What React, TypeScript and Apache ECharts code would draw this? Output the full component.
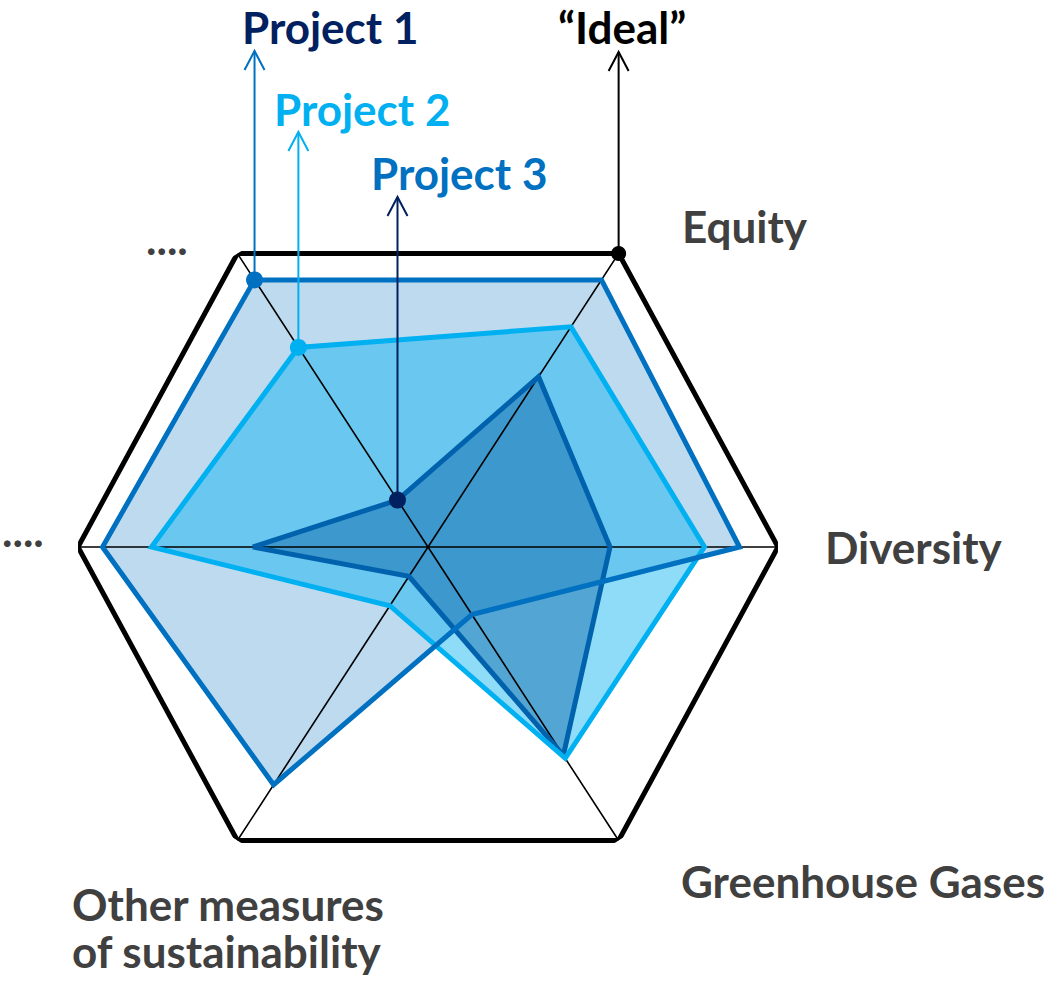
import React, { useEffect, useRef } from "react";
import * as echarts from "echarts";

// ---- data ----
const axisNames = ["Diversity", "Equity", "....", "....", "Other measures\nof sustainability", "Greenhouse Gases"];
const axisAngles = [0, 57, 123, 180, 237, 303]; // direction of each axis, degrees counter-clockwise from 3 o'clock
const idealValues = [10, 10, 10, 10, 10, 10];
const project1Values = [8.9, 9.1, 9.1, 9.3, 8.1, 2.3];
const project2Values = [7.9, 7.5, 6.8, 7.9, 2.0, 7.2];
const project3Values = [5.2, 5.8, 1.6, 5.0, 1.0, 7.1];
const seriesNames = ["\u201cIdeal\u201d", "Project 1", "Project 2", "Project 3"];
const markedAxis = [1, 2, 2, 2]; // axis on which each series carries its marker and arrow

// ---- layout / style ----
const CX = 428, CY = 547, R = 350, MAX = 10;
const FONT = "Lato";
const FS = 44;
const AXIS_LABEL_POS: [number, number][] = [
  [825, 547], [682, 226], [146, 238], [2, 530], [72, 927], [681, 881],
];
const ANNOT_LABEL_POS: [number, number][] = [[558, 27], [242, 27], [274, 109], [371, 173]];
const ARROW_TIP_Y = [52, 51, 132, 197];
const ARROW_COLORS = ["#000000", "#0070C0", "#00B0F0", "#002060"];
const LABEL_COLORS = ["#000000", "#002060", "#00B0F0", "#0070C0"];
const DOT_COLORS = ["#000000", "#0070C0", "#00B0F0", "#002060"];

function closedPolygon(values: number[], extra: boolean) {
  const pts = values.map((v, i) => [v, axisAngles[i]]);
  pts.push([values[0], axisAngles[0] + 360]);
  if (extra) pts.push([values[1], axisAngles[1] + 360]);
  return pts;
}

export default function App() {
  const ref = useRef<HTMLDivElement>(null);
  useEffect(() => {
    if (!ref.current) return;
    const chart = echarts.init(ref.current, null, { renderer: "svg" });
    const allValues = [idealValues, project1Values, project2Values, project3Values];
    const axesData = axisAngles.flatMap((a) => [[MAX, a], [0, a]]);

    const fill = (vals: number[], color: string) => ({
      type: "line", coordinateSystem: "polar", data: closedPolygon(vals, false),
      symbol: "none", clip: false, silent: true,
      lineStyle: { opacity: 0, width: 0 }, areaStyle: { color, opacity: 1 },
    });
    const line = (vals: number[], color: string, width: number) => ({
      type: "line", coordinateSystem: "polar", data: closedPolygon(vals, true),
      symbol: "none", clip: false, silent: true,
      lineStyle: { color, width, join: "miter", cap: "butt" },
    });
    const dots = allValues.map((vals, k) => ({
      type: "scatter", coordinateSystem: "polar", silent: true, z: 5,
      data: [[vals[markedAxis[k]], axisAngles[markedAxis[k]]]],
      symbol: "circle", symbolSize: k === 0 ? 15 : 17,
      itemStyle: { color: DOT_COLORS[k], opacity: 1 },
    }));

    chart.setOption({
      animation: false,
      backgroundColor: "#ffffff",
      polar: { center: [CX, CY], radius: R },
      angleAxis: { type: "value", min: 0, max: 360, startAngle: 0, clockwise: false, show: false },
      radiusAxis: { type: "value", min: 0, max: MAX, show: false },
      series: [
        { type: "line", coordinateSystem: "polar", data: axesData, symbol: "none", clip: false, silent: true,
          lineStyle: { color: "#000000", width: 1.6 } },
        fill(project1Values, "rgba(0,112,192,0.26)"),
        fill(project2Values, "rgba(0,176,240,0.44)"),
        fill(project3Values, "rgba(0,89,160,0.42)"),
        line(idealValues, "#000000", 5),
        line(project3Values, "#0062AD", 5),
        line(project2Values, "#00B0F0", 5),
        line(project1Values, "#0070C0", 5),
        ...dots,
      ],
    });

    const toPx = (r: number, a: number): number[] => {
      let p: any = null;
      try { p = chart.convertToPixel({ polarIndex: 0 } as any, [r, a]); } catch (e) { p = null; }
      if (!p || isNaN(p[0])) {
        const rad = (a * Math.PI) / 180;
        p = [CX + (R * r / MAX) * Math.cos(rad), CY - (R * r / MAX) * Math.sin(rad)];
      }
      return p;
    };

    const graphics: any[] = [];
    allValues.forEach((vals, k) => {
      const idx = markedAxis[k];
      const [px, py] = toPx(vals[idx], axisAngles[idx]);
      const tip = ARROW_TIP_Y[k];
      graphics.push({
        type: "line", z: 100, silent: true,
        shape: { x1: px, y1: py, x2: px, y2: tip },
        style: { stroke: ARROW_COLORS[k], lineWidth: 2 },
      });
      graphics.push({
        type: "polyline", z: 100, silent: true,
        shape: { points: [[px - 10, tip + 19], [px, tip], [px + 10, tip + 19]] },
        style: { stroke: ARROW_COLORS[k], lineWidth: 2, fill: "none" },
      });
      graphics.push({
        type: "text", z: 100, silent: true,
        x: ANNOT_LABEL_POS[k][0], y: ANNOT_LABEL_POS[k][1],
        style: { text: seriesNames[k], fill: LABEL_COLORS[k], fontFamily: FONT, fontWeight: "bold", fontSize: FS,
          align: "left", verticalAlign: "middle" },
      });
    });
    axisNames.forEach((name, i) => {
      graphics.push({
        type: "text", z: 100, silent: true,
        x: AXIS_LABEL_POS[i][0], y: AXIS_LABEL_POS[i][1],
        style: { text: name, fill: "#404040", fontFamily: FONT, fontWeight: "bold", fontSize: FS,
          lineHeight: 47, align: "left", verticalAlign: "middle" },
      });
    });
    chart.setOption({ graphic: { elements: graphics } });

    return () => chart.dispose();
  }, []);
  return <div ref={ref} style={{ position: "absolute", left: 0, top: 0, width: 1052, height: 998 }} />;
}
